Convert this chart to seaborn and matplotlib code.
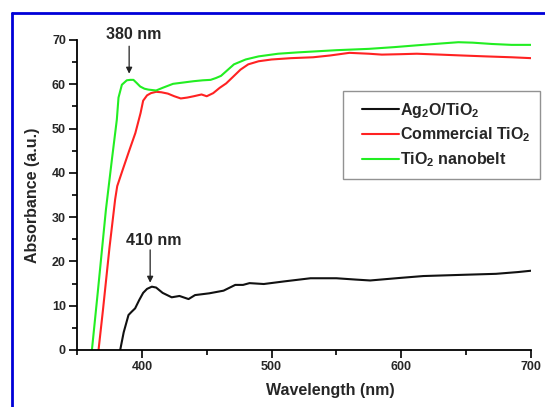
import matplotlib
matplotlib.use("Agg")
import matplotlib.pyplot as plt
import numpy as np
import pandas as pd
import seaborn as sns
from matplotlib.legend_handler import HandlerLine2D
from matplotlib.lines import Line2D
from matplotlib.ticker import MultipleLocator

# UV-Vis absorbance spectra of the three samples
samples = ["Ag$_2$O/TiO$_2$", "Commercial TiO$_2$", "TiO$_2$ nanobelt"]
colors = ["#111111", "#ff2222", "#22ee22"]

ag_x = [383.3, 386, 389.7, 392, 394.8, 398, 401, 404, 407.7, 411, 416, 423, 429,
        433, 436, 441, 452, 463, 472, 478, 483, 494, 510, 530, 550, 565, 576,
        600, 617, 650, 673, 690, 700]
ag_y = [0, 4, 7.9, 8.6, 9.4, 11.3, 12.9, 13.8, 14.3, 14.1, 12.9, 11.9, 12.2,
        11.8, 11.5, 12.4, 12.8, 13.4, 14.7, 14.7, 15.1, 14.9, 15.5, 16.2, 16.2,
        15.9, 15.7, 16.3, 16.7, 17.0, 17.2, 17.6, 17.9]

com_x = [366.6, 370, 375, 379.4, 381, 385, 390, 395, 399, 401, 404, 407, 411,
         415, 420, 425, 430, 435, 440, 446, 450, 455, 460, 465, 470, 476, 482,
         490, 500, 515, 532, 545, 560, 575, 585, 600, 612, 630, 647, 665, 685, 700]
com_y = [0, 9, 23, 34, 37, 40.5, 44.8, 49, 53.5, 56.3, 57.5, 58.0, 58.3,
         58.2, 57.9, 57.3, 56.8, 57.0, 57.3, 57.7, 57.3, 58.0, 59.2, 60.2, 61.6,
         63.3, 64.5, 65.2, 65.6, 65.9, 66.1, 66.5, 67.1, 66.9, 66.7, 66.8, 66.9,
         66.7, 66.5, 66.3, 66.1, 65.9]

nb_x = [361.5, 366, 372.3, 376.9, 380.7, 382, 384.6, 388.4, 391, 393.5, 396,
        398.7, 402, 405, 411, 416, 424, 432, 440, 447, 453, 457, 461, 466, 471,
        480, 490, 505, 520, 532, 550, 575, 595, 612, 630, 644, 655, 670, 685, 700]
nb_y = [0, 13, 31.7, 43, 52, 57, 59.9, 60.9, 61.0, 61.0, 60.3,
        59.5, 59.0, 58.8, 58.6, 59.2, 60.1, 60.4, 60.7, 60.9, 61.0, 61.4, 61.9, 63.2, 64.5,
        65.6, 66.3, 66.9, 67.2, 67.4, 67.7, 68.0, 68.4, 68.8, 69.2, 69.5, 69.4, 69.1, 68.9, 68.9]

peak_labels = ["380 nm", "410 nm"]
peak_x = [390.2, 406.4]
peak_tip = [62.4, 15.2]

frames = []
for name, xs, ys in zip(samples, [ag_x, com_x, nb_x], [ag_y, com_y, nb_y]):
    frames.append(pd.DataFrame({"Wavelength": xs, "Absorbance": ys, "Sample": name}))
df = pd.concat(frames, ignore_index=True)

sns.set_theme(style="ticks")
plt.rcParams["font.family"] = ["Liberation Sans", "DejaVu Sans"]
plt.rcParams["font.weight"] = "bold"
plt.rcParams["mathtext.fontset"] = "custom"
plt.rcParams["mathtext.rm"] = "Liberation Sans:bold"
plt.rcParams["mathtext.it"] = "Liberation Sans:bold"
plt.rcParams["mathtext.bf"] = "Liberation Sans:bold"

W, H = 545, 407
fig = plt.figure(figsize=(W / 100, H / 100), dpi=100)
fig.patch.set_facecolor("white")
ax = fig.add_axes([77 / W, 1 - 350 / H, (531 - 77) / W, (350 - 40) / H])

sns.lineplot(data=df, x="Wavelength", y="Absorbance", hue="Sample",
             hue_order=samples, palette=colors, estimator=None, sort=False,
             linewidth=1.5, legend=False, ax=ax)

ax.set_xlim(350, 700)
ax.set_ylim(0, 70)
ax.xaxis.set_major_locator(MultipleLocator(100))
ax.xaxis.set_minor_locator(MultipleLocator(50))
ax.yaxis.set_major_locator(MultipleLocator(10))
ax.yaxis.set_minor_locator(MultipleLocator(5))
sns.despine(ax=ax)
for side in ("left", "bottom"):
    ax.spines[side].set_linewidth(1.3)
    ax.spines[side].set_color("black")
ax.tick_params(which="major", length=6, width=1.2, direction="out", color="black",
               labelsize=9, pad=2)
ax.tick_params(which="minor", length=3.5, width=1.2, direction="out", color="black")
for lab in ax.get_xticklabels() + ax.get_yticklabels():
    lab.set_fontweight("bold")

ax.set_xlabel("Wavelength (nm)", fontsize=11.5, fontweight="bold")
ax.set_ylabel("Absorbance (a.u.)", fontsize=11.5, fontweight="bold")
ax.xaxis.set_label_coords((330 - 77) / 454, (350 - 383) / 310)
ax.yaxis.set_label_coords((40 - 77) / 454, 0.5)

# peak markers
ax.text(394, 71.2, peak_labels[0], ha="center", va="center", fontsize=11.5,
        fontweight="bold", clip_on=False)
ax.annotate("", xy=(peak_x[0], peak_tip[0]), xytext=(peak_x[0], 68.6),
            arrowprops=dict(arrowstyle="-|>", color="#222222", lw=0.9,
                            mutation_scale=9, shrinkA=0, shrinkB=0))
ax.text(409.5, 24.7, peak_labels[1], ha="center", va="center", fontsize=11.5,
        fontweight="bold")
ax.annotate("", xy=(peak_x[1], peak_tip[1]), xytext=(peak_x[1], 22.6),
            arrowprops=dict(arrowstyle="-|>", color="#222222", lw=0.9,
                            mutation_scale=9, shrinkA=0, shrinkB=0))


class IndentedLine(HandlerLine2D):
    """Legend line that leaves some blank space before the sample."""

    def get_xdata(self, legend, xdescent, ydescent, width, height, fontsize):
        start = -xdescent + 0.2 * width
        xdata = np.array([start, -xdescent + width])
        return xdata, xdata


handles = [Line2D([], [], color=c, lw=1.5) for c in colors]
leg = ax.legend(handles, samples, loc="upper left",
                bbox_to_anchor=((343 - 77) / 454, (350 - 91) / 310),
                frameon=True, fancybox=False, edgecolor="#777777",
                fontsize=11.5, handlelength=2.9, handletextpad=0.05,
                labelspacing=0.38, borderpad=0.6, borderaxespad=0,
                handler_map={Line2D: IndentedLine()})
leg.get_frame().set_linewidth(1.0)
for t in leg.get_texts():
    t.set_fontweight("bold")

# blue frame around the figure
bx, by = 11.5 / W, 1 - 12.5 / H
fig.add_artist(Line2D([bx, bx], [0, by], color="#0000d8", lw=2.0,
                      transform=fig.transFigure))
fig.add_artist(Line2D([bx, 1], [by, by], color="#0000d8", lw=2.0,
                      transform=fig.transFigure))

fig.savefig("out.png", dpi=100, facecolor="white")
